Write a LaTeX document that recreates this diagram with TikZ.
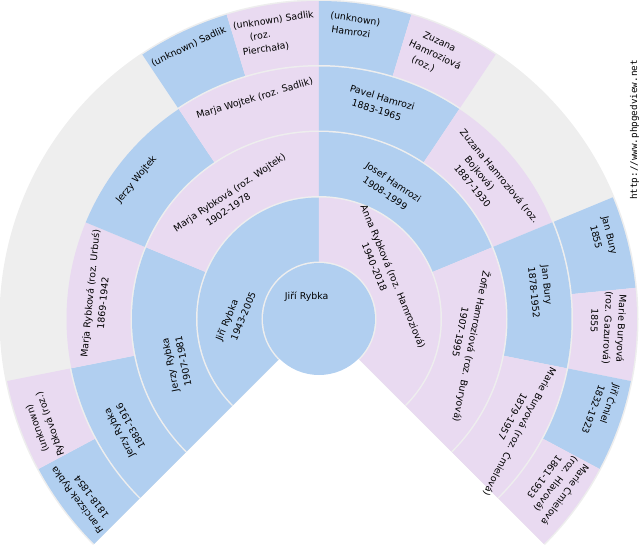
\documentclass[tikz,border=0pt]{standalone}
\usepackage{fontspec}
\setmainfont{DejaVu Sans}
\setmonofont{DejaVu Sans Mono}
\definecolor{fanbg}{HTML}{EEEEEE}
\definecolor{fanm}{HTML}{B1CFF0}
\definecolor{fanf}{HTML}{E9DAF1}
\newcommand\fancell[4]{\fill[#1] (0,0) -- (#2:#4) arc[start angle=#2, end angle=#3, radius=#4] -- cycle;}
\newcommand\padd[1]{\hspace*{#1\fontdimen2\font}}
\newcommand\fanlines[1]{\begin{tabular}[t]{@{}l@{}}#1\end{tabular}}
\tikzset{fantext/.style={anchor=base west, inner sep=0pt, outer sep=0pt, font=\fontsize{9.4}{13.6}\selectfont}}
\begin{document}
\begin{tikzpicture}
\useasboundingbox (-319pt,-231pt) rectangle (321pt,319pt);
% generation 4
\fancell{fanbg}{-45}{225}{319.5pt}
\fancell{fanm}{208.125}{225}{318pt}
\fancell{fanf}{191.25}{208.125}{318pt}
\fancell{fanm}{106.875}{123.75}{318pt}
\fancell{fanf}{90}{106.875}{318pt}
\fancell{fanm}{73.125}{90}{318pt}
\fancell{fanf}{56.25}{73.125}{318pt}
\fancell{fanm}{5.625}{22.5}{318pt}
\fancell{fanf}{-11.25}{5.625}{318pt}
\fancell{fanm}{-28.125}{-11.25}{318pt}
\fancell{fanf}{-45}{-28.125}{318pt}
% generation 3
\fancell{fanbg}{-45}{225}{254pt}
\fancell{fanm}{191.25}{225}{252.5pt}
\fancell{fanf}{157.5}{191.25}{252.5pt}
\fancell{fanm}{123.75}{157.5}{252.5pt}
\fancell{fanf}{90}{123.75}{252.5pt}
\fancell{fanm}{56.25}{90}{252.5pt}
\fancell{fanf}{22.5}{56.25}{252.5pt}
\fancell{fanm}{-11.25}{22.5}{252.5pt}
\fancell{fanf}{-45}{-11.25}{252.5pt}
% generation 2
\fancell{fanbg}{-45}{225}{188.5pt}
\fancell{fanm}{157.5}{225}{187pt}
\fancell{fanf}{90}{157.5}{187pt}
\fancell{fanm}{22.5}{90}{187pt}
\fancell{fanf}{-45}{22.5}{187pt}
% generation 1
\fancell{fanbg}{-45}{225}{123pt}
\fancell{fanm}{90}{225}{121.5pt}
\fancell{fanf}{-45}{90}{121.5pt}
% root
\fancell{fanbg}{-45}{225}{57.5pt}
\fill[fanm] (0,0) circle[radius=56pt];
% texts
\node[fantext] (t1) at (-40pt,20pt) {\fanlines{\padd{2}Jiří Rybka}};
\node[fantext, rotate=67.5] (t2) at (205.714:122pt) {\fanlines{\padd{11}Jiří Rybka\\ \padd{13}1943-2005}};
\node[fantext, rotate=-67.5] (t3) at (70.714:122pt) {\fanlines{\padd{1}Anna Rybková (roz. Hamroziová)\\ \padd{13}1940-2018}};
\node[fantext, rotate=101.25] (t4) at (218.864:171pt) {\fanlines{\padd{12}Jerzy Rybka\\ \padd{13}1907-1981}};
\node[fantext, rotate=33.75] (t5) at (151.364:171pt) {\fanlines{\padd{3}Marja Rybková (roz. Wojtek)\\ \padd{13}1902-1978}};
\node[fantext, rotate=-33.75] (t6) at (83.864:171pt) {\fanlines{\padd{11}Josef Hamrozi\\ \padd{13}1908-1999}};
\node[fantext, rotate=-101.25] (t7) at (16.364:171pt) {\fanlines{Žofie Hamroziová (roz. Buryová)\\ \padd{13}1907-1995}};
\node[fantext, rotate=118.125] (t8) at (224.56:236.5pt) {\fanlines{\padd{11}Jerzy Rybka\\ \padd{12}1883-1916}};
\node[fantext, rotate=84.375] (t9) at (190.81:236.5pt) {\fanlines{\padd{2}Marja Rybková (roz. Urbuś)\\ \padd{12}1869-1942}};
\node[fantext, rotate=50.625] (t10) at (157.06:236.5pt) {\fanlines{\padd{10}Jerzy Wojtek}};
\node[fantext, rotate=16.875] (t11) at (123.31:236.5pt) {\fanlines{\padd{3}Marja Wojtek (roz. Sadlik)}};
\node[fantext, rotate=-16.875] (t12) at (89.56:236.5pt) {\fanlines{\padd{10}Pavel Hamrozi\\ \padd{12}1883-1965}};
\node[fantext, rotate=-50.625] (t13) at (55.81:236.5pt) {\fanlines{\padd{4}Zuzana Hamroziová (roz.\\ \padd{12}Bojková)\\ \padd{12}1887-1930}};
\node[fantext, rotate=-84.375] (t14) at (22.06:236.5pt) {\fanlines{\padd{12}Jan Bury\\ \padd{12}1878-1952}};
\node[fantext, rotate=-118.125] (t15) at (-11.69:236.5pt) {\fanlines{Marie Buryová (roz. Ćmielová)\\ \padd{12}1879-1957}};
\node[fantext, rotate=126.5625] (t16) at (224.56:302pt) {\fanlines{Franciszek Rybka\\ \padd{3}1818-1854}};
\node[fantext, rotate=109.6875] (t17) at (207.685:302pt) {\fanlines{\padd{3}(unknown)\\ Rybková (roz.)}};
\node[fantext, rotate=25.3125] (t22) at (123.31:302pt) {\fanlines{(unknown) Sadlik}};
\node[fantext, rotate=8.4375] (t23) at (106.435:302pt) {\fanlines{(unknown) Sadlik\\ \padd{5}(roz.\\ \padd{2}Pierchała)}};
\node[fantext, rotate=-8.4375] (t24) at (89.56:302pt) {\fanlines{\padd{3}(unknown)\\ \padd{4}Hamrozi}};
\node[fantext, rotate=-25.3125] (t25) at (72.685:302pt) {\fanlines{\padd{5}Zuzana\\ \padd{2}Hamroziová\\ \padd{5}(roz.)}};
\node[fantext, rotate=-75.9375] (t28) at (22.06:302pt) {\fanlines{\padd{4}Jan Bury\\ \padd{6}1855}};
\node[fantext, rotate=-92.8125] (t29) at (5.185:302pt) {\fanlines{\padd{1}Marie Buryová\\ (roz. Gazurová)\\ \padd{6}1855}};
\node[fantext, rotate=-109.6875] (t30) at (-11.69:302pt) {\fanlines{\padd{1}Jiří Ćmiel\\ \padd{3}1832-1923}};
\node[fantext, rotate=-126.5625] (t31) at (-28.565:302pt) {\fanlines{Marie Ćmielová\\ (roz. Hlavová)\\ \padd{3}1861-1933}};
\node[rotate=90, inner sep=0pt, font=\ttfamily\fontsize{9.3}{10}\selectfont] (url) at (315.5pt,189pt) {http://www.phpgedview.net};
\end{tikzpicture}
\end{document}
